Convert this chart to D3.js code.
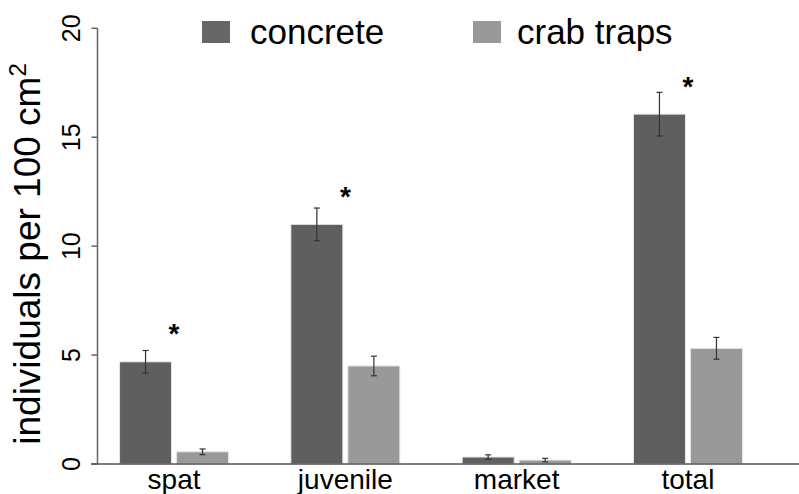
<!DOCTYPE html>
<html>
<head>
<meta charset="utf-8">
<script src="https://cdn.jsdelivr.net/npm/d3@7"></script>
<style>
  html, body { margin: 0; padding: 0; background: #fff; }
  text { font-family: Arial, "Liberation Sans", sans-serif; }
</style>
</head>
<body>
<svg id="chart" width="799" height="494"></svg>
<script>
// Data
const categories = ['spat', 'juvenile', 'market', 'total'];
const seriesNames = ['concrete', 'crab traps'];
const concreteMean = [4.69, 11.0, 0.32, 16.06];
const concreteErr = [0.52, 0.75, 0.10, 1.0];
const crabMean = [0.56, 4.5, 0.18, 5.31];
const crabErr = [0.13, 0.45, 0.08, 0.5];
const significant = [true, true, false, true];
const yTicks = [0, 5, 10, 15, 20];

const colors = { 'concrete': '#5f5f5f', 'crab traps': '#999999' };

// Build rows for drawing
const rows = [];
categories.forEach((c, i) => {
  rows.push({ cat: c, series: 'concrete', mean: concreteMean[i], err: concreteErr[i] });
  rows.push({ cat: c, series: 'crab traps', mean: crabMean[i], err: crabErr[i] });
});

const svg = d3.select('#chart');

// Scales
const yScale = d3.scaleLinear().domain([0, 20]).range([464, 28.3]);
const x0 = d3.scaleBand().domain(categories).range([88.4, 773.6]).padding(0);
const x1 = d3.scaleBand().domain(seriesNames)
  .range([x0.bandwidth() / 2 - 54.5, x0.bandwidth() / 2 + 54.5])
  .paddingInner(0.088);

// Bars
svg.append('g').selectAll('rect')
  .data(rows)
  .enter().append('rect')
  .attr('x', d => x0(d.cat) + x1(d.series))
  .attr('y', d => yScale(d.mean))
  .attr('width', x1.bandwidth())
  .attr('height', d => yScale(0) - yScale(d.mean))
  .attr('fill', d => colors[d.series])
  .attr('stroke', '#e6e6e6')
  .attr('stroke-width', 1);

// Error bars
const eb = svg.append('g').attr('stroke', '#333').attr('stroke-width', 1.2);
rows.forEach(d => {
  const cx = x0(d.cat) + x1(d.series) + x1.bandwidth() / 2;
  const yt = yScale(d.mean + d.err);
  const yb = yScale(d.mean - d.err);
  eb.append('line').attr('x1', cx).attr('x2', cx).attr('y1', yt).attr('y2', yb);
  eb.append('line').attr('x1', cx - 3).attr('x2', cx + 3).attr('y1', yt).attr('y2', yt);
  eb.append('line').attr('x1', cx - 3).attr('x2', cx + 3).attr('y1', yb).attr('y2', yb);
});

// Significance asterisks
svg.append('g').selectAll('text')
  .data(categories.filter((c, i) => significant[i]))
  .enter().append('text')
  .attr('x', c => x0(c) + x0.bandwidth() / 2)
  .attr('y', c => yScale(concreteMean[categories.indexOf(c)] + 1.4) + 12)
  .attr('text-anchor', 'middle')
  .style('font-size', '28px')
  .style('font-weight', 'bold')
  .text('*');

// Y axis
const yAxis = svg.append('g').attr('transform', 'translate(97.5,0)');
yAxis.append('line')
  .attr('x1', 0).attr('x2', 0)
  .attr('y1', yScale(20)).attr('y2', yScale(0))
  .attr('stroke', '#666').attr('stroke-width', 1.5);
yAxis.selectAll('.tick')
  .data(yTicks)
  .enter().append('line')
  .attr('x1', -6).attr('x2', 0)
  .attr('y1', d => yScale(d)).attr('y2', d => yScale(d))
  .attr('stroke', '#666').attr('stroke-width', 1.5);
yAxis.selectAll('.tlabel')
  .data(yTicks)
  .enter().append('text')
  .attr('transform', d => `translate(-17.5,${yScale(d)}) rotate(-90)`)
  .attr('text-anchor', 'middle')
  .style('font-size', '25px')
  .text(d => d);

// X axis line
svg.append('line')
  .attr('x1', 91).attr('x2', 799)
  .attr('y1', yScale(0)).attr('y2', yScale(0))
  .attr('stroke', '#555').attr('stroke-width', 1.5);

// X labels
svg.append('g').selectAll('text')
  .data(categories)
  .enter().append('text')
  .attr('x', c => x0(c) + x0.bandwidth() / 2)
  .attr('y', 489)
  .attr('text-anchor', 'middle')
  .style('font-size', '28px')
  .text(c => c);

// Y title
const title = svg.append('text')
  .attr('transform', 'translate(40,254) rotate(-90)')
  .attr('text-anchor', 'middle')
  .style('font-size', '37px');
title.append('tspan').text('individuals per 100 cm');
title.append('tspan').attr('dy', -14).style('font-size', '24px').text('2');

// Legend
const legendX = [202, 473];
const legendTextX = [250, 517];
seriesNames.forEach((s, i) => {
  svg.append('rect')
    .attr('x', legendX[i]).attr('y', 21)
    .attr('width', 28).attr('height', 22)
    .attr('fill', i === 0 ? '#666' : '#999');
  svg.append('text')
    .attr('x', legendTextX[i]).attr('y', 44)
    .style('font-size', '35px')
    .text(s);
});
</script>
</body>
</html>
